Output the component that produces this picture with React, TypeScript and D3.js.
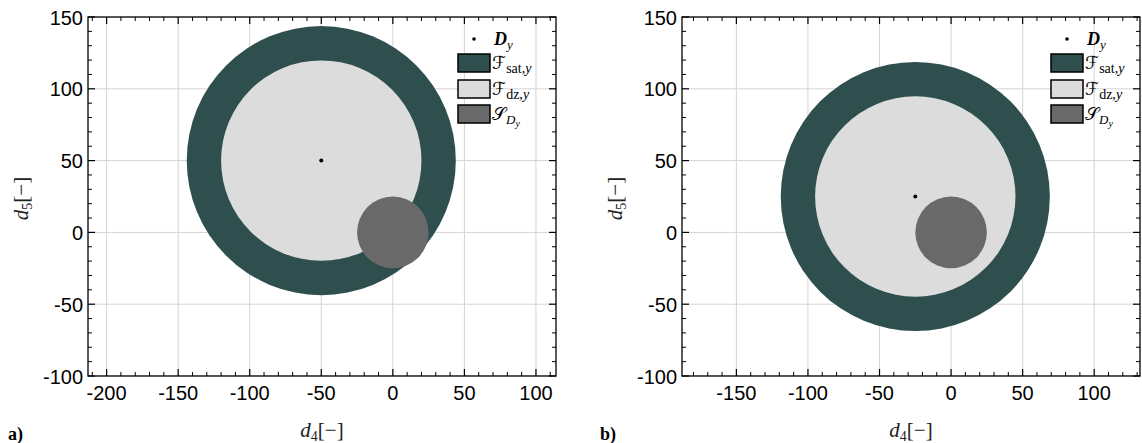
import React from 'react';
import * as d3 from 'd3';

const panelLabels = ['a)', 'b)'];
const xDomains: [number, number][] = [[-213, 114], [-188, 132]];
const yDomain: [number, number] = [-100, 150];
const xTickSets = [[-200, -150, -100, -50, 0, 50, 100], [-150, -100, -50, 0, 50, 100]];
const yTicks = [-100, -50, 0, 50, 100, 150];
const centerX = [-50, -25];
const centerY = [50, 25];
const satRadius = [94, 94];
const dzRadius = [70, 70];
const sRadius = [25, 25];
const sCenter = [0, 0];

const W = 1142, H = 443;
const xRanges: [number, number][] = [[88, 556], [682, 1140]];
const yRange: [number, number] = [376, 17];
const legendX = [458, 1051];

const C_SAT = '#2f4f4f';
const C_DZ = '#dcdcdc';
const C_S = '#696969';
const TICKFONT = 'Liberation Sans, Arial, sans-serif';
const MATH = 'Liberation Serif, DejaVu Serif, serif';
const CAL = 'DejaVu Serif, DejaVu Sans, serif';

function Panel({ i }: { i: number }) {
  const x = d3.scaleLinear().domain(xDomains[i]).range(xRanges[i]);
  const y = d3.scaleLinear().domain(yDomain).range(yRange);
  const kx = Math.abs(x(1) - x(0));
  const [x0, x1] = xRanges[i];
  const [yb, yt] = yRange;
  const majorX = xTickSets[i];
  const minorX = d3.range(Math.ceil(xDomains[i][0] / 10) * 10, xDomains[i][1] + 0.1, 10).filter(v => v % 50 !== 0);
  const minorY = d3.range(-100, 151, 10).filter(v => v % 50 !== 0);
  const clipId = 'clip' + i;
  const lx = legendX[i];
  const rows = [
    { fill: C_SAT, main: 'ℱ', sub: 'sat,', y: 54 },
    { fill: C_DZ, main: 'ℱ', sub: 'dz,', y: 80 },
    { fill: C_S, main: '𝒮', sub: '', y: 105 },
  ];
  return (
    <g>
      <defs>
        <clipPath id={clipId}>
          <rect x={x0} y={yt} width={x1 - x0} height={yb - yt} />
        </clipPath>
      </defs>
      <g clipPath={`url(#${clipId})`}>
        {majorX.map(v => (
          <line key={'gx' + v} x1={x(v)} x2={x(v)} y1={yt} y2={yb} stroke="#d4d4d4" strokeWidth={1} />
        ))}
        {yTicks.map(v => (
          <line key={'gy' + v} x1={x0} x2={x1} y1={y(v)} y2={y(v)} stroke="#d4d4d4" strokeWidth={1} />
        ))}
        <circle cx={x(centerX[i])} cy={y(centerY[i])} r={satRadius[i] * kx} fill={C_SAT} />
        <circle cx={x(centerX[i])} cy={y(centerY[i])} r={dzRadius[i] * kx} fill={C_DZ} />
        <circle cx={x(sCenter[0])} cy={y(sCenter[1])} r={sRadius[i] * kx} fill={C_S} />
        <circle cx={x(centerX[i])} cy={y(centerY[i])} r={2} fill="#000" />
      </g>
      {majorX.map(v => (
        <g key={'tx' + v}>
          <line x1={x(v)} x2={x(v)} y1={yb} y2={yb - 7} stroke="#000" strokeWidth={1.2} />
          <line x1={x(v)} x2={x(v)} y1={yt} y2={yt + 7} stroke="#000" strokeWidth={1.2} />
          <text x={x(v)} y={yb + 24} textAnchor="middle" fontFamily={TICKFONT} fontSize={20} fill="#000">{v}</text>
        </g>
      ))}
      {minorX.map(v => (
        <g key={'mx' + v}>
          <line x1={x(v)} x2={x(v)} y1={yb} y2={yb - 4} stroke="#000" strokeWidth={1} />
          <line x1={x(v)} x2={x(v)} y1={yt} y2={yt + 4} stroke="#000" strokeWidth={1} />
        </g>
      ))}
      {yTicks.map(v => (
        <g key={'ty' + v}>
          <line x1={x0} x2={x0 + 7} y1={y(v)} y2={y(v)} stroke="#000" strokeWidth={1.2} />
          <line x1={x1} x2={x1 - 7} y1={y(v)} y2={y(v)} stroke="#000" strokeWidth={1.2} />
          <text x={x0 - 5} y={y(v) + 7.5} textAnchor="end" fontFamily={TICKFONT} fontSize={20} fill="#000">{v}</text>
        </g>
      ))}
      {minorY.map(v => (
        <g key={'my' + v}>
          <line x1={x0} x2={x0 + 4} y1={y(v)} y2={y(v)} stroke="#000" strokeWidth={1} />
          <line x1={x1} x2={x1 - 4} y1={y(v)} y2={y(v)} stroke="#000" strokeWidth={1} />
        </g>
      ))}
      <rect x={x0} y={yt} width={x1 - x0} height={yb - yt} fill="none" stroke="#000" strokeWidth={1.3} />
      <circle cx={lx + 16} cy={39} r={1.8} fill="#000" />
      <text x={lx + 36} y={45} fontFamily={MATH} fontSize={18} fill="#000">
        <tspan fontWeight="bold" fontStyle="italic">D</tspan>
        <tspan fontStyle="italic" fontSize={13} dy={4}>y</tspan>
      </text>
      {rows.map((r, k) => (
        <g key={'lg' + k}>
          <rect x={lx} y={r.y} width={32} height={18} fill={r.fill} stroke="#000" strokeWidth={1.5} />
          <text x={lx + 34} y={r.y + 15} fontFamily={MATH} fontSize={18} fill="#000">
            <tspan fontFamily={CAL}>{r.main}</tspan>
            {r.sub ? (
              <>
                <tspan fontSize={14} dy={4}>{r.sub}</tspan>
                <tspan fontSize={14} fontStyle="italic">y</tspan>
              </>
            ) : (
              <>
                <tspan fontSize={13} fontStyle="italic" dy={4}>D</tspan>
                <tspan fontSize={10} fontStyle="italic" dy={3}>y</tspan>
              </>
            )}
          </text>
        </g>
      ))}
      <text x={(x0 + x1) / 2} y={437} textAnchor="middle" fontFamily={MATH} fontSize={21} fill="#222">
        <tspan fontStyle="italic">d</tspan>
        <tspan fontSize={14} dy={4}>4</tspan>
        <tspan dy={-4}>[−]</tspan>
      </text>
      <text transform={`translate(${x0 - 60},${(yt + yb) / 2 + 2}) rotate(-90)`} textAnchor="middle" fontFamily={MATH} fontSize={21} fill="#222">
        <tspan fontStyle="italic">d</tspan>
        <tspan fontSize={14} dy={4}>5</tspan>
        <tspan dy={-4}>[−]</tspan>
      </text>
      <text x={i === 0 ? 8 : 600} y={440} fontFamily="Liberation Serif, serif" fontWeight="bold" fontSize={18} fill="#000">{panelLabels[i]}</text>
    </g>
  );
}

export default function App() {
  return (
    <svg width={W} height={H} style={{ position: 'absolute', left: 0, top: 0, background: '#fff' }}>
      <Panel i={0} />
      <Panel i={1} />
    </svg>
  );
}
